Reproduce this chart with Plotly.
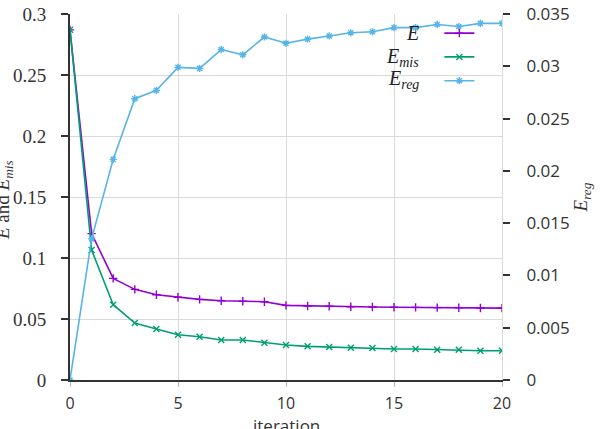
import plotly.graph_objects as go

iterations = list(range(21))
E = [0.287, 0.120, 0.0833, 0.0743, 0.0699, 0.0678, 0.0661, 0.0650, 0.0645, 0.0642,
     0.0612, 0.0607, 0.0604, 0.0601, 0.0598, 0.0596, 0.0595, 0.0593, 0.0592, 0.0590, 0.0589]
E_mis = [0.287, 0.1066, 0.0617, 0.0467, 0.0418, 0.0371, 0.0355, 0.0328, 0.0328, 0.0306,
         0.0287, 0.0276, 0.0270, 0.0265, 0.0262, 0.0254, 0.0254, 0.0248, 0.0248, 0.0240, 0.0240]
E_reg = [0.0, 0.0135, 0.0211, 0.0269, 0.0277, 0.0299, 0.0298, 0.0316, 0.0311, 0.0328,
         0.0322, 0.0326, 0.0329, 0.0332, 0.0333, 0.0337, 0.0337, 0.0340, 0.0338, 0.0341, 0.0341]

labels = ["<i>E</i>", "<i>E</i><sub><i>mis</i></sub>", "<i>E</i><sub><i>reg</i></sub>"]
colors = ["#9400d3", "#009e73", "#56b4e9"]
symbols = ["cross-thin", "x-thin", "asterisk"]

SERIF = "Liberation Serif"
SANS = "Open Sans"

fig = go.Figure()
for vals, lab, col, sym, ax in zip([E, E_mis, E_reg], labels, colors, symbols, ["y", "y", "y2"]):
    fig.add_trace(go.Scatter(
        x=iterations, y=vals, yaxis=ax, mode="lines+markers", name="\u00a0",
        hovertemplate=lab + ": %{y}<extra></extra>",
        line=dict(color=col, width=1.6),
        marker=dict(symbol=sym, size=6, color=col, line=dict(color=col, width=1.4)),
    ))

fig.update_layout(
    width=602, height=429,
    margin=dict(l=70, r=100, t=14, b=49, autoexpand=False),
    plot_bgcolor="white", paper_bgcolor="white",
    showlegend=True,
    legend=dict(x=0.855, y=0.994, xanchor="left", yanchor="top",
                bgcolor="rgba(0,0,0,0)", font=dict(family=SERIF, size=16),
                tracegroupgap=0, itemwidth=30),
    xaxis=dict(range=[0, 20], dtick=5, showgrid=True, gridcolor="#dadada", gridwidth=1,
               showline=True, linecolor="#333333", linewidth=2, zeroline=False,
               automargin=False,
               ticks="outside", ticklen=5, tickcolor="#bbbbbb",
               tickfont=dict(family=SANS, size=16, color="#333333"),
               ticklabelstandoff=3),
    yaxis=dict(range=[0, 0.3], dtick=0.05, showgrid=True, gridcolor="#dadada", gridwidth=1,
               showline=True, linecolor="#333333", linewidth=2, zeroline=False,
               automargin=False,
               ticks="outside", ticklen=7, tickcolor="#333333", tickwidth=1.5,
               tickfont=dict(family=SERIF, size=19, color="#333333"),
               ticklabelstandoff=11),
    yaxis2=dict(range=[0, 0.035], dtick=0.005, overlaying="y", side="right", showgrid=False,
                showline=True, linecolor="#dadada", linewidth=1, zeroline=False,
                automargin=False,
                ticks="outside", ticklen=7, tickcolor="#333333", tickwidth=2,
                tickfont=dict(family=SANS, size=17, color="#333333"),
                ticklabelstandoff=13,
                title=dict(text="<i>E</i><sub><i>reg</i></sub>",
                           font=dict(family=SERIF, size=19, color="#333333"), standoff=0)),
)

# legend labels (text sits to the left of the legend samples, as in the reference)
ann_y = [33, 57, 80]
for lab, py in zip(labels, ann_y):
    fig.add_annotation(xref="paper", yref="paper", x=(421 - 70) / 432, y=1 - (py - 14) / 366,
                       xanchor="right", yanchor="middle", showarrow=False, text=lab,
                       font=dict(family=SERIF, size=20, color="#222222"))

# axis titles
fig.add_annotation(xref="paper", yref="paper", x=(4 - 70) / 432, y=1 - (200 - 14) / 366,
                   xanchor="center", yanchor="middle", showarrow=False, textangle=-90,
                   text="<i>E</i> and <i>E</i><sub><i>mis</i></sub>",
                   font=dict(family=SERIF, size=19, color="#333333"))
fig.add_annotation(xref="paper", yref="paper", x=0.5, y=-(425 - 380) / 366,
                   xanchor="center", yanchor="middle", showarrow=False,
                   text="iteration", font=dict(family=SANS, size=17, color="#333333"))

fig.write_html("out.html")
